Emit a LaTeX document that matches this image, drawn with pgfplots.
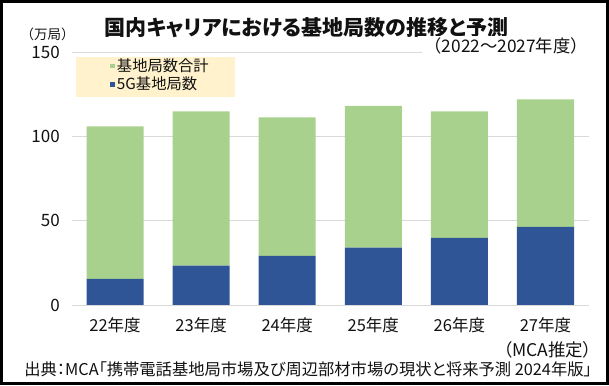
\documentclass[border=0pt]{standalone}
\usepackage{fontspec}
\setmainfont{Noto Sans CJK JP}[RawFeature={+palt}]
\newfontfamily\fullfont{Noto Sans CJK JP}
\usepackage{pgfplots}
\usepackage{pgfplotstable}
\pgfplotsset{compat=1.18}
\definecolor{cgreen}{HTML}{A9D18E}
\definecolor{cblue}{HTML}{2F5597}
\definecolor{cgrid}{HTML}{D9D9D9}
\definecolor{clegbg}{HTML}{FFF2CC}
\definecolor{ctext}{HTML}{111111}
\pgfplotstableread{
x total g5
0 106.1 15.5
1 115.0 23.3
2 111.4 29.2
3 118.2 34.0
4 115.0 39.9
5 122.1 46.4
}\datatab
\begin{document}
\begin{tikzpicture}[x=1pt,y=1pt]
\fill[clegbg] (76,288) rectangle (235,328.3);
\begin{axis}[
  at={(72pt,80pt)}, anchor=south west,
  width=516.5pt, height=252.7pt, scale only axis,
  ybar stacked, bar width=0.663,
  xmin=-0.5, xmax=5.5, ymin=0, ymax=150,
  xtick={0,1,2,3,4,5},
  xticklabels={22年度,23年度,24年度,25年度,26年度,27年度},
  ytick={0,50,100,150},
  axis line style={draw=none},
  tick style={draw=none},
  ymajorgrids, grid style={cgrid, line width=0.9pt},
  /pgf/number format/assume math mode=true,
  yticklabel style={font=\fontsize{17}{20}\selectfont, text=ctext, anchor=east, inner sep=0pt, xshift=-12pt},
  xticklabel style={font=\fontsize{16.5}{20}\selectfont, text=ctext, anchor=center, inner sep=0pt, yshift=-20.5pt},
  reverse legend,
  legend style={at={(axis description cs:0.0735,0.9755)}, anchor=north west,
    draw=none, fill=none, inner sep=0pt, row sep=4pt,
    font=\fontsize{15.3}{18}\selectfont, text=ctext,
    nodes={inner xsep=1pt, inner ysep=0pt},
    /tikz/every odd column/.append style={column sep=1.2pt}},
  legend cell align=left,
  legend image code/.code={\fill[#1] (0pt,-2.3pt) rectangle (4.6pt,2.3pt);},
]
\addplot[fill=cblue, draw=none] table[x=x, y=g5] {\datatab};
\addplot[fill=cgreen, draw=none] table[x=x, y expr=\thisrow{total}-\thisrow{g5}] {\datatab};
\legend{5G基地局数, 基地局数合計}
\end{axis}
\node[font=\bfseries\fontsize{21}{25}\selectfont, text=ctext] at (306.5,357.5) {国内キャリアにおける基地局数の推移と予測};
\node[font=\fullfont\fontsize{17.3}{20}\selectfont, text=ctext, fill=white, inner sep=2pt, anchor=east] at (590,339) {（2022～2027年度）};
\node[font=\fullfont\fontsize{13.5}{16}\selectfont, text=ctext] at (47.5,350.5) {（万局）};
\node[font=\fontsize{17.5}{20}\selectfont, text=ctext, anchor=east, inner sep=0pt] at (592,35) {（MCA推定）};
\node[font=\fontsize{16.3}{19}\selectfont, text=ctext, anchor=east, inner sep=0pt] at (592,15.5) {出典：MCA「携帯電話基地局市場及び周辺部材市場の現状と将来予測 2024年版」};
\draw[line width=3pt] (1.5,1.5) rectangle (607.5,383.5);
\end{tikzpicture}
\end{document}
